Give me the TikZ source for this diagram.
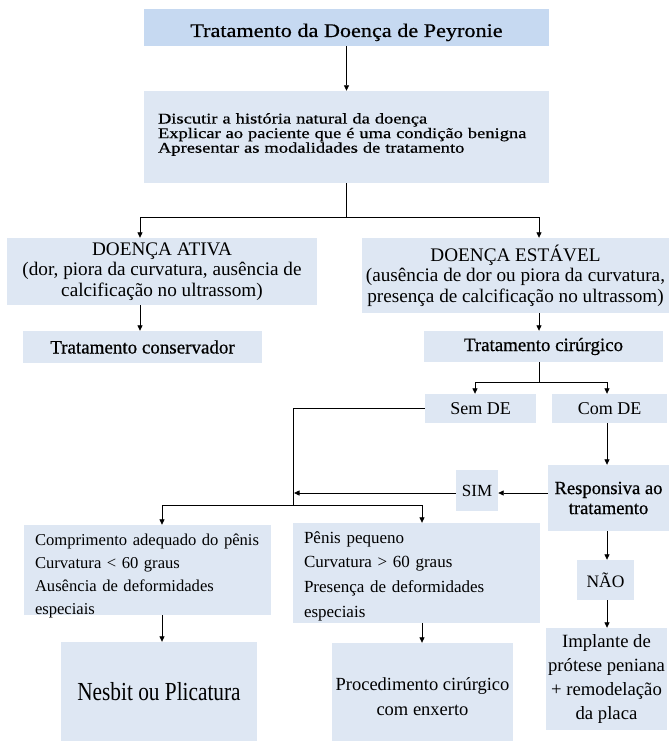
\documentclass[tikz,border=0pt]{standalone}
\usepackage{fontspec}
\setmainfont{Liberation Serif}
\newfontfamily\widefont[FakeStretch=1.15,FakeBold=0.6]{Liberation Serif}
\newfontfamily\introfont[FakeStretch=1.25,FakeBold=0.6]{Liberation Serif}
\newfontfamily\medfont[FakeBold=0.6]{Liberation Serif}
\newfontfamily\narrowfont[FakeStretch=0.82]{Liberation Serif}
\usetikzlibrary{arrows.meta}
\definecolor{headblue}{HTML}{C6D9F1}
\definecolor{boxblue}{HTML}{DEE7F3}
\newcommand\tightlines{\lineskiplimit=-10pt\relax}

\begin{document}
\begin{tikzpicture}[x=1pt,y=-1pt,
  box/.style={fill=boxblue,inner sep=0pt,align=center},
  line/.style={draw=black,line width=0.8pt},
  arr/.style={line,-{Triangle[length=5.5pt,width=5pt]}}]
\useasboundingbox (0,0) rectangle (669,741);
% top of the chart
\node[box,fill=headblue,minimum width=405pt,minimum height=37pt,text height=19pt,text depth=0pt,
  font=\widefont\fontsize{19.3}{22}\selectfont] (title) at (346.5,27.5)
  {Tratamento da Doença de Peyronie};
\node[box,minimum width=405pt,minimum height=92pt,align=left,text width=377pt,inner xsep=14pt,
  text height=12pt,text depth=39pt,
  font=\introfont\fontsize{14.8}{14.6}\selectfont\tightlines] (intro) at (346.5,137)
  {Discutir a história natural da doença\\
   Explicar ao paciente que é uma condição benigna\\
   Apresentar as modalidades de tratamento};
% two kinds of disease
\node[box,minimum width=310pt,minimum height=67pt,font=\fontsize{19.2}{20.5}\selectfont] (ativa) at (162,271.5)
  {DOENÇA ATIVA\\(dor, piora da curvatura, ausência de\\calcificação no ultrassom)};
\node[box,minimum width=307pt,minimum height=75pt,font=\fontsize{19.2}{20.5}\selectfont] (estavel) at (515.5,275.5)
  {DOENÇA ESTÁVEL\\(ausência de dor ou piora da curvatura,\\presença de calcificação no ultrassom)};
\node[box,minimum width=239pt,minimum height=32pt,font=\medfont\fontsize{19}{20}\selectfont] (conserv) at (142.5,347)
  {Tratamento conservador};
\node[box,minimum width=239pt,minimum height=31pt,font=\medfont\fontsize{18.9}{20}\selectfont] (cirurgico) at (543.5,346.5)
  {Tratamento cirúrgico};
\node[box,minimum width=111pt,minimum height=29pt,font=\fontsize{18}{20}\selectfont] (semde) at (480.5,408.5) {Sem DE};
\node[box,minimum width=115pt,minimum height=29pt,font=\fontsize{18}{20}\selectfont] (comde) at (609.5,408.5) {Com DE};
\node[box,minimum width=121pt,minimum height=66pt,font=\medfont\fontsize{18.6}{20}\selectfont] (resp) at (608.5,498)
  {Responsiva ao\\tratamento};
\node[box,minimum width=42pt,minimum height=41pt,font=\fontsize{17}{20}\selectfont] (sim) at (477,490.5) {SIM};
\node[box,minimum width=57pt,minimum height=40pt,font=\fontsize{17.5}{20}\selectfont] (nao) at (605.5,580) {NÃO};
\node[box,minimum width=121pt,minimum height=102pt,font=\fontsize{18.7}{24}\selectfont] (impl) at (606.5,679)
  {Implante de\\prótese peniana\\+ remodelação\\da placa};
% surgical options
\node[box,minimum width=247pt,minimum height=90pt,align=left,text width=225pt,inner xsep=11pt,
  text height=20pt,text depth=70pt,
  font=\fontsize{16.6}{23.3}\selectfont] (compr) at (147.5,570)
  {\mbox{Comprimento adequado do pênis}\\Curvatura < 60 graus\\Ausência de deformidades\\especiais};
\node[box,minimum width=247pt,minimum height=100pt,align=left,text width=225pt,inner xsep=11pt,
  text height=14pt,text depth=74pt,
  font=\fontsize{17}{24.7}\selectfont] (penis) at (416.5,573)
  {Pênis pequeno\\Curvatura > 60 graus\\Presença de deformidades\\especiais};
\node[box,minimum width=196pt,minimum height=99pt,font=\narrowfont\fontsize{26}{30}\selectfont] (nesbit) at (159,691.5)
  {Nesbit ou Plicatura};
\node[box,minimum width=181pt,minimum height=98pt,text height=51pt,text depth=5pt,
  font=\fontsize{18.5}{25}\selectfont] (proc) at (422.5,692)
  {Procedimento cirúrgico\\com enxerto};
% connectors
\coordinate (bl) at (140,217);
\coordinate (br) at (539,217);
\coordinate (sl) at (475,382);
\coordinate (sr) at (607,382);
\coordinate (jn) at (293,505);
\coordinate (jl) at (162,505);
\coordinate (jr) at (422,505);
\coordinate (ya) at (0,493);
\draw[arr] (title) -- (intro);
\draw[arr] (intro.south) |- (bl) -- (bl |- ativa.north);
\draw[arr] (intro.south) |- (br) -- (br |- estavel.north);
\draw[arr] (ativa.south -| bl) -- (conserv.north -| bl);
\draw[arr] (estavel.south -| br) -- (cirurgico.north -| br);
\draw[arr] (cirurgico.south -| br) |- (sl) -- (sl |- semde.north);
\draw[arr] (cirurgico.south -| br) |- (sr) -- (sr |- comde.north);
\draw[line] (semde.west) -| (jn);
\draw[arr] (jn) -- (jl) -- (jl |- compr.north);
\draw[arr] (jn) -- (jr) -- (jr |- penis.north);
\draw[arr] (comde.south -| sr) -- (resp.north -| sr);
\draw[arr] (resp.west |- ya) -- (sim.east |- ya);
\draw[arr,shorten >=1pt] (sim.west |- ya) -- (jn |- ya);
\draw[arr] (resp.south -| sr) -- (nao.north -| sr);
\draw[arr] (nao.south -| sr) -- (impl.north -| sr);
\draw[arr] (compr.south -| jl) -- (nesbit.north -| jl);
\draw[arr] (penis.south -| jr) -- (proc.north -| jr);
\end{tikzpicture}
\end{document}
